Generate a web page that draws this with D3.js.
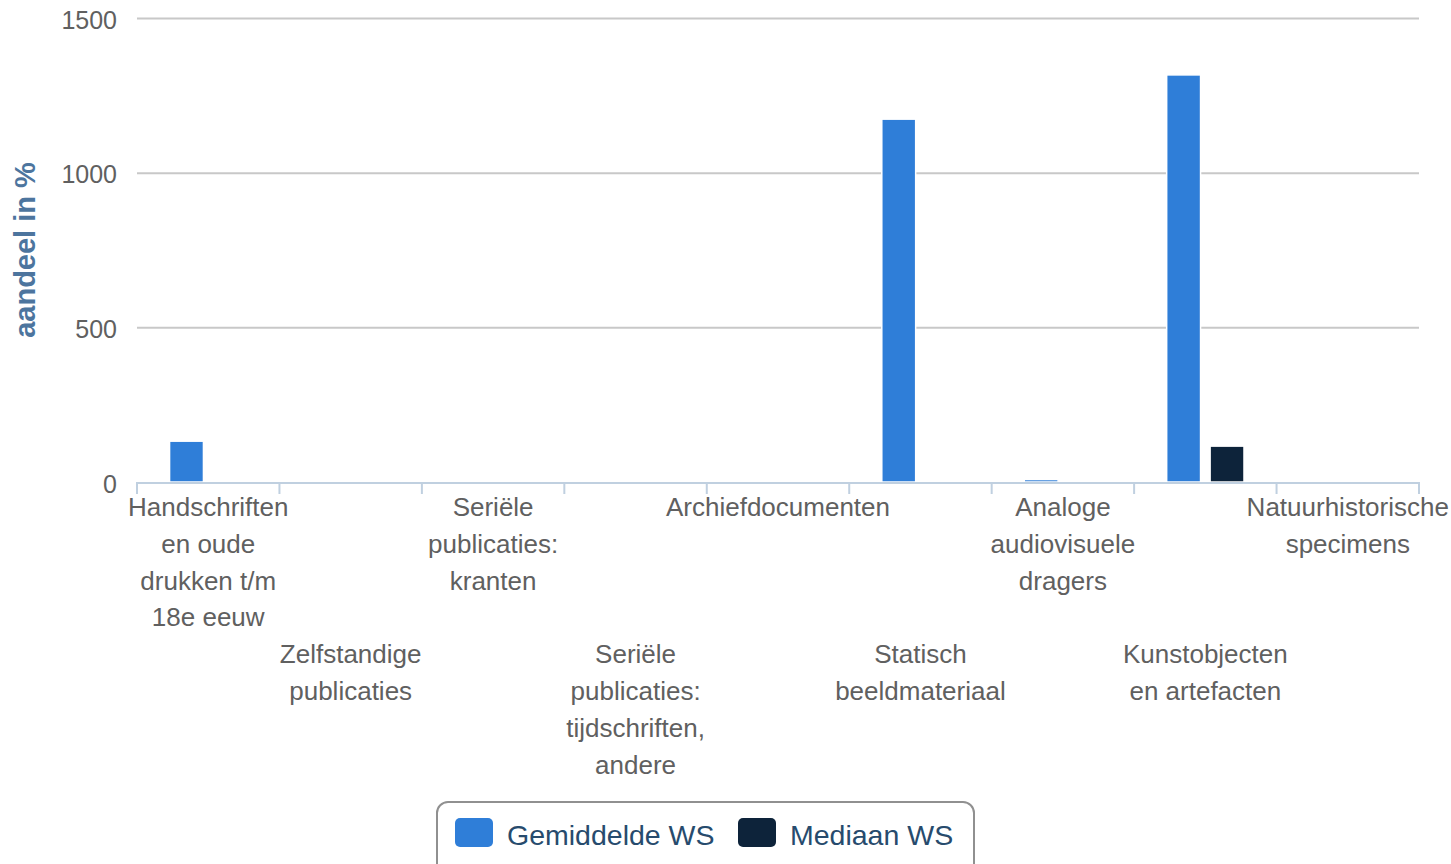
<!DOCTYPE html>
<html>
<head>
<meta charset="utf-8">
<script src="https://cdn.jsdelivr.net/npm/d3@7"></script>
<style>
  body { margin: 0; background: #fff; }
  svg { font-family: "Liberation Sans", Arial, Helvetica, sans-serif; display: block; }
</style>
</head>
<body>
<div id="container"></div>
<script>
/* CONSTANTS AND GLOBALS */
const width = 1451;
const height = 864;
const margin = { top: 18, right: 32, bottom: 382, left: 137 };

/* DATA */
const categories = [
  "Handschriften en oude drukken t/m 18e eeuw",
  "Zelfstandige publicaties",
  "Seriële publicaties: kranten",
  "Seriële publicaties: tijdschriften, andere",
  "Archiefdocumenten",
  "Statisch beeldmateriaal",
  "Analoge audiovisuele dragers",
  "Kunstobjecten en artefacten",
  "Natuurhistorische specimens"
];
const tickLabels = [
  ["Handschriften", "en oude", "drukken t/m", "18e eeuw"],
  ["Zelfstandige", "publicaties"],
  ["Seriële", "publicaties:", "kranten"],
  ["Seriële", "publicaties:", "tijdschriften,", "andere"],
  ["Archiefdocumenten"],
  ["Statisch", "beeldmateriaal"],
  ["Analoge", "audiovisuele", "dragers"],
  ["Kunstobjecten", "en artefacten"],
  ["Natuurhistorische", "specimens"]
];
const seriesNames = ["Gemiddelde WS", "Mediaan WS"];
const gemiddelde = [132, 0, 0, 0, 0, 1173, 8, 1316, 1];
const mediaan = [0, 0, 0, 0, 0, 0, 0, 116, 0];
const yTicks = [0, 500, 1000, 1500];
const colors = ["#2f7ed8", "#0d233a"];

const data = categories.map((c, i) => ({ cat: c, values: [gemiddelde[i], mediaan[i]] }));

const svg = d3.select("#container").append("svg")
  .attr("width", width)
  .attr("height", height);

const plotW = width - margin.left - margin.right;
const plotB = height - margin.bottom;

/* SCALES */
const xScale = d3.scaleBand()
  .domain(categories)
  .range([margin.left, margin.left + plotW])
  .padding(0);

const xSub = d3.scaleBand()
  .domain(seriesNames)
  .range([0, xScale.bandwidth()])
  .paddingInner(0.22)
  .paddingOuter(0.75);

const yScale = d3.scaleLinear()
  .domain([0, 1500])
  .range([plotB, margin.top]);

/* GRID + Y AXIS */
const yAxis = d3.axisLeft(yScale)
  .tickValues(yTicks)
  .tickFormat(d3.format("d"))
  .tickSize(-plotW)
  .tickPadding(20);

const gy = svg.append("g")
  .attr("transform", `translate(${margin.left},0)`)
  .call(yAxis);
gy.select(".domain").remove();
gy.selectAll(".tick line").attr("stroke", "#c8c8c8").attr("stroke-width", 2)
  .attr("opacity", d => d === 0 ? 0 : 1);
gy.selectAll(".tick text")
  .attr("fill", "#606060")
  .attr("font-size", 25)
  .attr("dy", "0.4em");

svg.append("text")
  .attr("transform", `translate(35,${(margin.top + plotB) / 2}) rotate(-90)`)
  .attr("text-anchor", "middle")
  .attr("fill", "#4d759e")
  .attr("font-weight", "bold")
  .attr("font-size", 29)
  .text("aandeel in %");

/* BARS */
const groups = svg.selectAll("g.cat")
  .data(data)
  .join("g")
  .attr("class", "cat")
  .attr("transform", d => `translate(${xScale(d.cat)},0)`);

groups.selectAll("rect")
  .data(d => d.values.map((v, i) => ({ v, s: seriesNames[i], i })))
  .join("rect")
  .attr("x", d => xSub(d.s))
  .attr("width", xSub.bandwidth())
  .attr("y", d => yScale(d.v))
  .attr("height", d => plotB - yScale(d.v))
  .attr("fill", d => colors[d.i])
  .attr("stroke", "#fff")
  .attr("stroke-width", 1.5);

/* X AXIS */
const gx = svg.append("g");
gx.append("line")
  .attr("x1", margin.left).attr("x2", margin.left + plotW)
  .attr("y1", plotB + 1).attr("y2", plotB + 1)
  .attr("stroke", "#c0d0e0").attr("stroke-width", 2);

const boundaries = categories.map(c => xScale(c)).concat([margin.left + plotW]);
gx.selectAll("line.tick")
  .data(boundaries)
  .join("line")
  .attr("class", "tick")
  .attr("x1", d => d).attr("x2", d => d)
  .attr("y1", plotB).attr("y2", plotB + 12)
  .attr("stroke", "#c0d0e0").attr("stroke-width", 2);

const lineH = 36.8;
gx.selectAll("text.lbl")
  .data(tickLabels)
  .join("text")
  .attr("class", "lbl")
  .attr("text-anchor", "middle")
  .attr("fill", "#606060")
  .attr("font-size", 26)
  .attr("transform", (d, i) => `translate(${xScale(categories[i]) + xScale.bandwidth() / 2},${516 + (i % 2) * lineH * 4})`)
  .selectAll("tspan")
  .data(d => d)
  .join("tspan")
  .attr("x", 0)
  .attr("y", (d, j) => j * lineH)
  .text(d => d);

/* LEGEND */
const legend = svg.append("g");
legend.append("rect")
  .attr("x", 437).attr("y", 802)
  .attr("width", 537).attr("height", 80)
  .attr("rx", 11)
  .attr("fill", "#fff")
  .attr("stroke", "#909090")
  .attr("stroke-width", 2);

const legendX = [455, 738];
const items = legend.selectAll("g.item")
  .data(seriesNames)
  .join("g")
  .attr("class", "item")
  .attr("transform", (d, i) => `translate(${legendX[i]},818)`);
items.append("rect")
  .attr("width", 38).attr("height", 29)
  .attr("rx", 5)
  .attr("fill", (d, i) => colors[i]);
items.append("text")
  .attr("x", 52).attr("y", 27)
  .attr("fill", "#274b6d")
  .attr("font-size", 28.5)
  .text(d => d);
</script>
</body>
</html>
